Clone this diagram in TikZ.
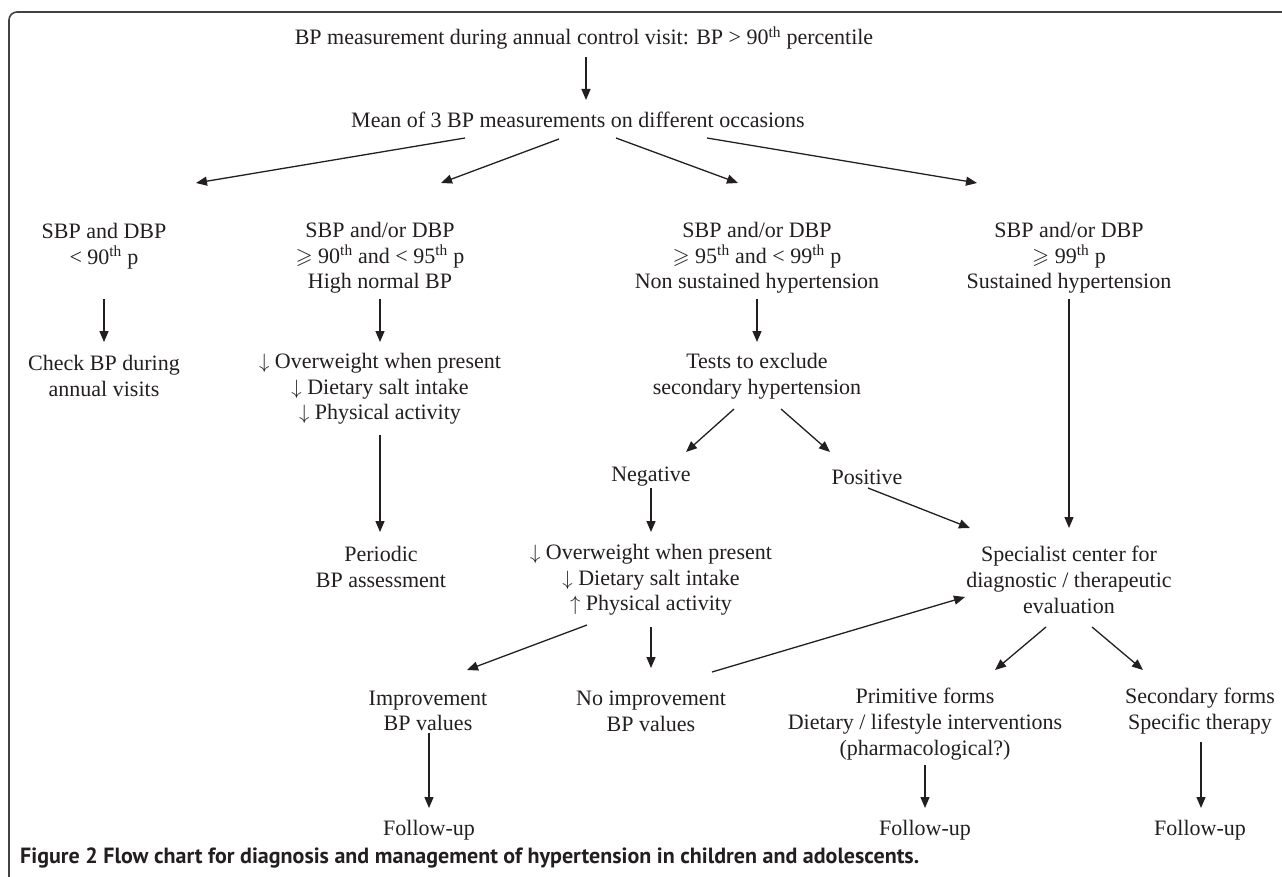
\documentclass[tikz,border=0pt]{standalone}
\usepackage{amssymb}
\usepackage{fontspec}
\setmainfont{Liberation Serif}
\newfontfamily\capfont{PT Sans}
\usetikzlibrary{arrows.meta}
\definecolor{ink}{HTML}{231F20}
\begin{document}
\begin{tikzpicture}[x=1pt,y=-1pt,
  txt/.style={align=center, inner sep=0pt, text=ink, font=\fontsize{22}{25.7}\selectfont},
  arr/.style={draw=ink, line width=1.3pt, -{Triangle[length=11pt,width=9pt]}},
  frame/.style={draw=ink!85, line width=1.6pt, rounded corners=8pt}
]
\useasboundingbox (0,0) rectangle (1282,877);
\fill[white] (0,0) rectangle (1282,877);
\draw[frame] (9,877) -- (9,12) -- (1283,12);

% nodes
\node[txt] (top) at (584,38) {BP measurement during annual control visit: BP > 90\textsuperscript{th} percentile};
\node[txt] (mean) at (578,120) {Mean of 3 BP measurements on different occasions};
\node[txt] (a1) at (104,246) {SBP and DBP\\< 90\textsuperscript{th} p};
\node[txt] (b1) at (380,258) {SBP and/or DBP\\$\geqslant$ 90\textsuperscript{th} and < 95\textsuperscript{th} p\\High normal BP};
\node[txt] (c1) at (757,258) {SBP and/or DBP\\$\geqslant$ 95\textsuperscript{th} and < 99\textsuperscript{th} p\\Non sustained hypertension};
\node[txt] (d1) at (1069,258) {SBP and/or DBP\\$\geqslant$ 99\textsuperscript{th} p\\Sustained hypertension};
\node[txt] (a2) at (104,376) {Check BP during\\annual visits};
\node[txt] (b2) at (380,389) {$\downarrow$ Overweight when present\\$\downarrow$ Dietary salt intake\\$\downarrow$ Physical activity};
\node[txt] (c2) at (757,376) {Tests to exclude\\secondary hypertension};
\node[txt] (b3) at (381,567) {Periodic\\BP assessment};
\node[txt] (neg) at (651,477) {Negative};
\node[txt] (pos) at (867,477) {Positive};
\node[txt] (n2) at (651,580) {$\downarrow$ Overweight when present\\$\downarrow$ Dietary salt intake\\$\uparrow$ Physical activity};
\node[txt] (spec) at (1069,580) {Specialist center for\\diagnostic / therapeutic\\evaluation};
\node[txt] (imp) at (428,711) {Improvement\\BP values};
\node[txt] (noimp) at (651,711) {No improvement\\BP values};
\node[txt] (prim) at (925,724) {Primitive forms\\Dietary / lifestyle interventions\\(pharmacological?)};
\node[txt] (sec) at (1200,711) {Secondary forms\\Specific therapy};
\node[txt] (f1) at (429,830) {Follow-up};
\node[txt] (f2) at (925,830) {Follow-up};
\node[txt] (f3) at (1200,830) {Follow-up};
\node[anchor=west, inner sep=0pt, text=ink, font=\capfont\bfseries\fontsize{22}{25}\selectfont] (cap) at (20,858) {Figure 2 Flow chart for diagnosis and management of hypertension in children and adolescents.};

% connector end points
\coordinate (top-o) at (586,57);   \coordinate (mean-i) at (586,100);
\coordinate (mean-o1) at (465,138); \coordinate (a1-i) at (196,183);
\coordinate (mean-o2) at (559,139); \coordinate (b1-i) at (441,183);
\coordinate (mean-o3) at (616,138); \coordinate (c1-i) at (738,183);
\coordinate (mean-o4) at (707,138); \coordinate (d1-i) at (977,183);
\coordinate (a1-o) at (104,299); \coordinate (a2-i) at (104,342);
\coordinate (b1-o) at (380,299); \coordinate (b2-i) at (380,342);
\coordinate (c1-o) at (757,299); \coordinate (c2-i) at (757,342);
\coordinate (d1-o) at (1069,299); \coordinate (spec-i1) at (1069,528);
\coordinate (b2-o) at (380,435); \coordinate (b3-i) at (380,532);
\coordinate (c2-o1) at (734,409); \coordinate (neg-i) at (686,452);
\coordinate (c2-o2) at (781,409); \coordinate (pos-i) at (830,452);
\coordinate (neg-o) at (651,488); \coordinate (n2-i) at (651,532);
\coordinate (pos-o) at (868,488); \coordinate (spec-i2) at (970,528);
\coordinate (n2-o1) at (587,625); \coordinate (imp-i) at (467,670);
\coordinate (n2-o2) at (651,627); \coordinate (noimp-i) at (651,668);
\coordinate (noimp-o) at (712,672); \coordinate (spec-i3) at (965,597);
\coordinate (spec-o1) at (1046,627); \coordinate (prim-i) at (995,670);
\coordinate (spec-o2) at (1092,627); \coordinate (sec-i) at (1143,670);
\coordinate (imp-o) at (429,733); \coordinate (f1-i) at (429,808);
\coordinate (prim-o) at (925,765); \coordinate (f2-i) at (925,808);
\coordinate (sec-o) at (1201,742); \coordinate (f3-i) at (1201,808);

% connectors
\draw[arr] (top-o) -- (mean-i);
\draw[arr] (mean-o1) -- (a1-i);
\draw[arr] (mean-o2) -- (b1-i);
\draw[arr] (mean-o3) -- (c1-i);
\draw[arr] (mean-o4) -- (d1-i);
\draw[arr] (a1-o) -- (a2-i);
\draw[arr] (b1-o) -- (b2-i);
\draw[arr] (c1-o) -- (c2-i);
\draw[arr] (d1-o) -- (spec-i1);
\draw[arr] (b2-o) -- (b3-i);
\draw[arr] (c2-o1) -- (neg-i);
\draw[arr] (c2-o2) -- (pos-i);
\draw[arr] (neg-o) -- (n2-i);
\draw[arr] (pos-o) -- (spec-i2);
\draw[arr] (n2-o1) -- (imp-i);
\draw[arr] (n2-o2) -- (noimp-i);
\draw[arr] (noimp-o) -- (spec-i3);
\draw[arr] (spec-o1) -- (prim-i);
\draw[arr] (spec-o2) -- (sec-i);
\draw[arr] (imp-o) -- (f1-i);
\draw[arr] (prim-o) -- (f2-i);
\draw[arr] (sec-o) -- (f3-i);
\end{tikzpicture}
\end{document}
